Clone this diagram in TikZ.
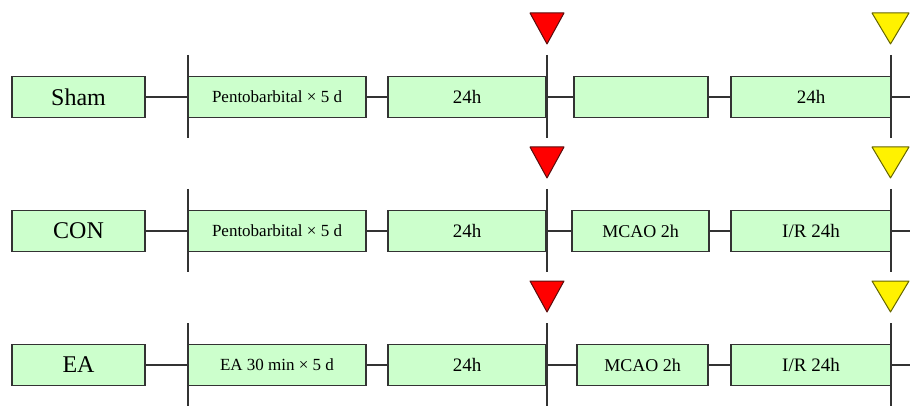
\documentclass[tikz,border=0pt]{standalone}
\usepackage{fontspec}
\setmainfont{Liberation Serif}
\usetikzlibrary{
  positioning,
  calc
}
\definecolor{paleGreen}{rgb}{0.8,1,0.8}
\definecolor{lineGray}{rgb}{0.2,0.2,0.2}
\definecolor{darkRed}{rgb}{0.35,0.05,0.05}
\definecolor{darkOlive}{rgb}{0.4,0.4,0}
\tikzset{
  stage/.style={
    draw=lineGray,
    line width=1.3pt,
    fill=paleGreen,
    inner sep=0pt,
    minimum height=41pt,
    font=\fontsize{17}{17}\selectfont
  }
}
\tikzset{
  group/.style={
    stage,
    font=\fontsize{24}{24}\selectfont
  }
}
\tikzset{
  link/.style={draw=lineGray, line width=1.2pt},
  marker/.style={draw=lineGray, line width=1.2pt},
  flag/.style={line width=1pt, line join=round}
}

\begin{document}
\begin{tikzpicture}[x=1pt, y=-1pt]
    \useasboundingbox (0,0) rectangle (910,406);
    \foreach \n/\y/\grp/\pre/\op/\opx/\opw in {
      1/97/Sham/{Pentobarbital × 5 d}/{}/641/134,
      2/231/CON/{Pentobarbital × 5 d}/{MCAO 2h}/640.5/137,
      3/365/EA/{EA 30 min × 5 d}/{MCAO 2h}/642.5/131}{
      % boxes of one group
      \node[group, minimum width=133pt] (grp\n) at (78.5,\y) {\grp};
      \node[stage, minimum width=178pt] (pre\n) at (277,\y) {\pre};
      \node[stage, minimum width=158pt, font=\fontsize{19}{19}\selectfont]
        (day\n) at (467,\y) {24h};
      \node[stage, minimum width=\opw pt, font=\fontsize{18}{18}\selectfont]
        (op\n) at (\opx,\y) {\op};
      \node[stage, minimum width=160pt, font=\fontsize{19}{19}\selectfont]
        (rep\n) at (811,\y) {\ifnum\n=1 24h\else I/R 24h\fi};
      \coordinate (tail\n) at (910,\y);
      % connectors
      \draw[link] (grp\n.east) -- (pre\n.west);
      \draw[link] (pre\n.east) -- (day\n.west);
      \draw[link] (day\n.east) -- (op\n.west);
      \draw[link] (op\n.east) -- (rep\n.west);
      \draw[link] (rep\n.east) -- (tail\n);
      % time marks
      \foreach \bx in {188,547,891}
        \draw[marker] (\bx,\y-42) -- (\bx,\y+41);
      \draw[flag, draw=darkRed, fill=red]
        (530,\y-84) -- (564,\y-84) -- (547,\y-53) -- cycle;
      \draw[flag, draw=darkOlive, fill=yellow]
        (872,\y-84) -- (909,\y-84) -- (890.5,\y-53) -- cycle;
    }
\end{tikzpicture}
\end{document}
